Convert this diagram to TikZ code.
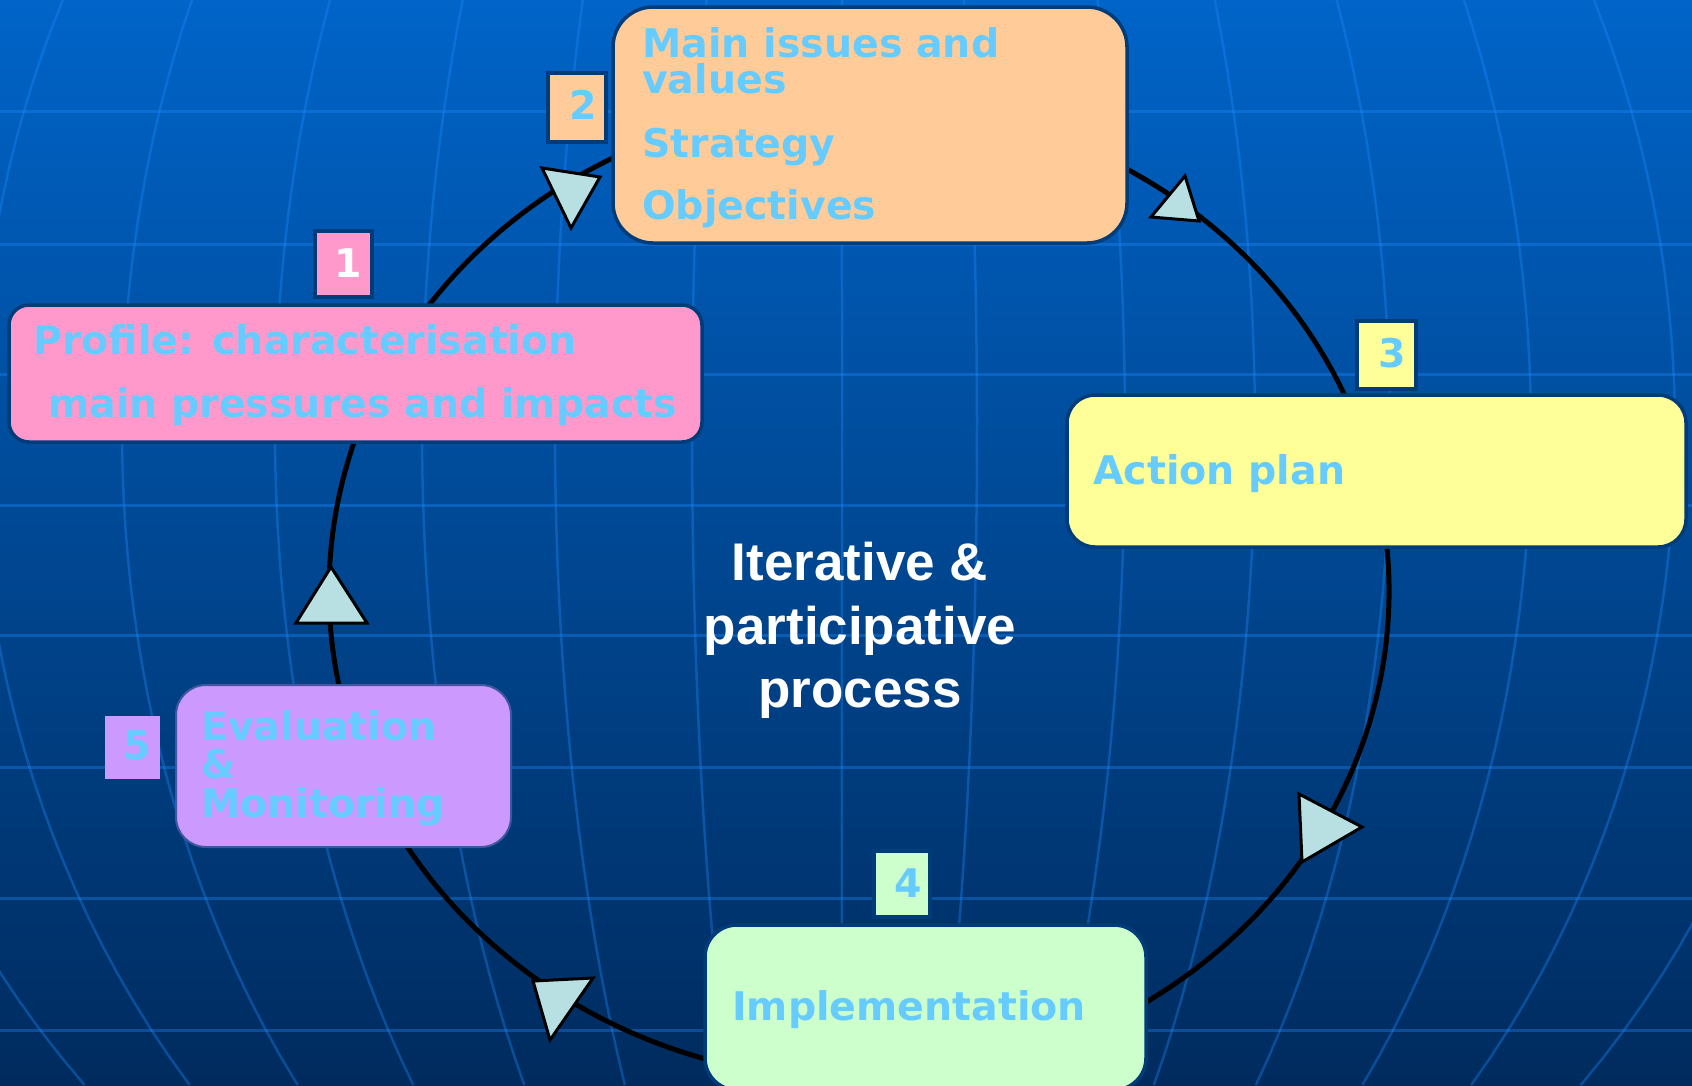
\documentclass[tikz,border=0pt]{standalone}
\usepackage{fontspec}
\newfontfamily\boxfont{DejaVu Sans}
\newfontfamily\ctrfont{Liberation Sans}
\definecolor{bgtop}{RGB}{0,100,200}
\definecolor{bgmid}{RGB}{0,72,154}
\definecolor{bgbot}{RGB}{0,43,94}
\definecolor{gridc}{RGB}{30,140,255}
\definecolor{navy}{RGB}{0,60,120}
\definecolor{lblue}{RGB}{102,204,255}
\definecolor{cpink}{RGB}{255,153,204}
\definecolor{corange}{RGB}{255,204,153}
\definecolor{cyellow}{RGB}{255,255,153}
\definecolor{cgreen}{RGB}{204,255,204}
\definecolor{cpurple}{RGB}{204,153,255}
\definecolor{trifill}{RGB}{184,224,226}
\tikzset{
  gridline/.style={draw=gridc, draw opacity=0.35, line width=3pt},
  conn/.style={draw=black, line width=5pt},
  box/.style={draw=navy, line width=3.5pt, inner sep=0pt, outer sep=0pt},
  numbox/.style={draw=navy, line width=3.5pt, inner sep=0pt, outer sep=0pt},
  lbl/.style={anchor=base west, inner sep=0pt, text=lblue, font={\boxfont\bfseries\fontsize{39.5}{40}\selectfont}},
  digit/.style={anchor=base, inner sep=0pt, text=lblue, font={\boxfont\bfseries\fontsize{39.5}{40}\selectfont}},
  ctr/.style={anchor=base, inner sep=0pt, text=white, font={\ctrfont\bfseries\fontsize{53}{60}\selectfont}},
  tri/.style={fill=trifill, draw=black, line width=3pt}
}
\begin{document}
\begin{tikzpicture}[x=1pt,y=1pt]
\useasboundingbox (0,0) rectangle (1692,-1085);
\clip (0,0) rectangle (1692,-1085);
% background
\shade[top color=bgtop, middle color=bgmid, bottom color=bgbot] (0,0) rectangle (1692,-1085);
% grid: horizontal lines
\foreach \yy in {111,244,374,505,635,767,898,1030}
  \draw[gridline] (0,-\yy) -- (1692,-\yy);
% grid: meridians (converging towards top and bottom)
\foreach \X in {-160,-21,122,275,422,555,692,842,977,1125,1255,1390,1531,1675,1820}
  \draw[gridline, line width=2.5pt] plot[domain=0:1085, samples=40, variable=\t]
    ({841+(\X-841)*sqrt(1-((\t-430)/1000)^2)}, {-\t});
% cycle centre
\coordinate (c) at (859,-591);
% connectors (elliptic arcs)
\draw[conn] (c) ++(155:530 and 489) arc[start angle=155, end angle=100, x radius=530, y radius=489];
\draw[conn] (c) ++(80:530 and 489) arc[start angle=80, end angle=15, x radius=530, y radius=489];
\draw[conn] (c) ++(10:530 and 489) arc[start angle=10, end angle=-70, x radius=530, y radius=489];
\draw[conn] (c) ++(-95:530 and 489) arc[start angle=-95, end angle=-160, x radius=530, y radius=489];
\draw[conn] (c) ++(-160:530 and 489) arc[start angle=-160, end angle=-205, x radius=530, y radius=489];
% main boxes
\node[box, fill=cpink, rounded corners=20pt, minimum width=693pt, minimum height=137pt] (b1) at (355.5,-373.5) {};
\node[box, fill=corange, rounded corners=40pt, minimum width=514pt, minimum height=236pt] (b2) at (870,-125) {};
\node[box, fill=cyellow, rounded corners=28pt, minimum width=619pt, minimum height=152pt] (b3) at (1376.5,-471) {};
\node[box, fill=cgreen, rounded corners=32pt, minimum width=441pt, minimum height=165pt] (b4) at (925.5,-1007.5) {};
\node[box, draw=navy!70!cpurple, line width=2pt, fill=cpurple, rounded corners=30pt, minimum width=335pt, minimum height=162pt] (b5) at (343.5,-766) {};
% number boxes
\node[numbox, fill=cpink, minimum width=57pt, minimum height=66pt] (n1) at (343.5,-264) {};
\node[numbox, fill=corange, minimum width=58pt, minimum height=69pt] (n2) at (577,-107.5) {};
\node[numbox, fill=cyellow, minimum width=59pt, minimum height=68pt] (n3) at (1386.5,-355) {};
\node[numbox, fill=cgreen, minimum width=56pt, minimum height=66pt] (n4) at (902,-884) {};
\node[numbox, draw=none, fill=cpurple, minimum width=55pt, minimum height=63pt] (n5) at (132.5,-747.5) {};
% digits
\node[digit, text=white] (d1) at (348,-277) {1};
\node[digit] (d2) at (583,-119) {2};
\node[digit] (d3) at (1392,-367) {3};
\node[digit] (d4) at (908,-897) {4};
\node[digit] (d5) at (137,-759) {5};
% box texts
\node[lbl] (t1a) at (33,-354) {Profile: characterisation};
\node[lbl] (t1b) at (48,-417) {main pressures and impacts};
\node[lbl] (t2a) at (642,-57) {Main issues and};
\node[lbl] (t2b) at (642,-93) {values};
\node[lbl] (t2c) at (642,-157) {Strategy};
\node[lbl] (t2d) at (642,-219) {Objectives};
\node[lbl] (t3) at (1093,-484) {Action plan};
\node[lbl] (t4) at (732,-1020) {Implementation};
\node[lbl] (t5a) at (201,-740) {Evaluation};
\node[lbl] (t5b) at (201,-778) {\&};
\node[lbl] (t5c) at (201,-817) {Monitoring};
% centre text
\node[ctr] (c1) at (860,-580) {Iterative \&};
\node[ctr] (c2) at (860,-644) {participative};
\node[ctr] (c3) at (860,-707) {process};
% arrowheads
\filldraw[tri] (542,-168) -- (600,-177) -- (571,-228) -- cycle;
\filldraw[tri] (1185,-176) -- (1199,-221) -- (1151,-217) -- cycle;
\filldraw[tri] (1299,-794) -- (1362,-827) -- (1302,-862) -- cycle;
\filldraw[tri] (533,-981) -- (593,-978) -- (550,-1040) -- cycle;
\filldraw[tri] (331,-567) -- (367,-623) -- (296,-623) -- cycle;
\end{tikzpicture}
\end{document}
